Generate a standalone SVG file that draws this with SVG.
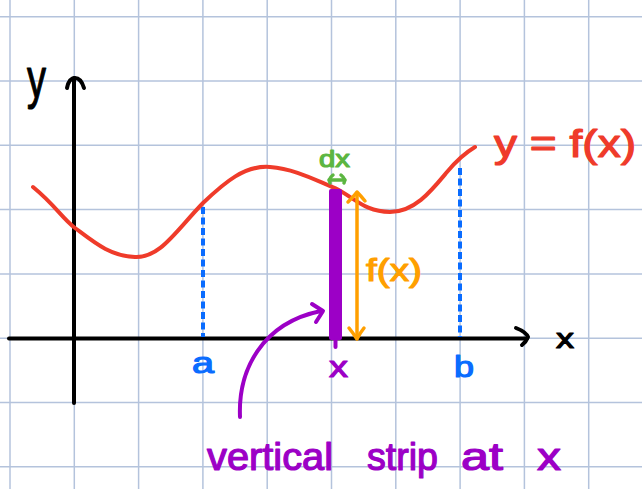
<svg xmlns="http://www.w3.org/2000/svg" width="642" height="489" viewBox="0 0 642 489">
<defs>
<style>
.grid line{stroke:#b4c3dc;stroke-width:1.5}
.ax{stroke:#000;stroke-width:4;fill:none;stroke-linecap:round;stroke-linejoin:round}
.t{font-family:"Liberation Sans","DejaVu Sans",sans-serif;stroke-width:1.2;stroke-linejoin:round}
.dash{stroke:#0a6cff;stroke-width:4;stroke-dasharray:7 3.5;fill:none}
.pur{stroke:#9c00c6;fill:none;stroke-linecap:round;stroke-linejoin:round}
.org{stroke:#ff9f00;stroke-width:3.5;fill:none;stroke-linecap:round;stroke-linejoin:round}
.grn{stroke:#5cb641;stroke-width:3.5;fill:none;stroke-linecap:round;stroke-linejoin:round}
</style>
</defs>
<rect width="642" height="489" fill="#fff"/>
<g id="grid" class="grid">
<line x1="10" y1="0" x2="10" y2="489"/>
<line x1="74.3" y1="0" x2="74.3" y2="489"/>
<line x1="138.6" y1="0" x2="138.6" y2="489"/>
<line x1="202.9" y1="0" x2="202.9" y2="489"/>
<line x1="267.2" y1="0" x2="267.2" y2="489"/>
<line x1="331.5" y1="0" x2="331.5" y2="489"/>
<line x1="395.8" y1="0" x2="395.8" y2="489"/>
<line x1="460.1" y1="0" x2="460.1" y2="489"/>
<line x1="524.4" y1="0" x2="524.4" y2="489"/>
<line x1="588.7" y1="0" x2="588.7" y2="489"/>
<line x1="0" y1="16.7" x2="642" y2="16.7"/>
<line x1="0" y1="81" x2="642" y2="81"/>
<line x1="0" y1="145.3" x2="642" y2="145.3"/>
<line x1="0" y1="209.6" x2="642" y2="209.6"/>
<line x1="0" y1="273.9" x2="642" y2="273.9"/>
<line x1="0" y1="338.2" x2="642" y2="338.2"/>
<line x1="0" y1="402.5" x2="642" y2="402.5"/>
<line x1="0" y1="466.8" x2="642" y2="466.8"/>
</g>
<g id="axes">
<path class="ax" d="M74,403 L74,78"/>
<path class="ax" d="M67,88 Q69,78 75,78 Q81,78 84,88"/>
<path class="ax" d="M9,338.5 L527,338.5"/>
<path class="ax" d="M516,328 Q526,332 528,337 Q526,342 522,345"/>
<text class="t" x="27" y="97" font-size="56" textLength="19" lengthAdjust="spacingAndGlyphs" fill="#000" stroke="#000">y</text>
<text class="t" x="556" y="348" font-size="28" textLength="18" lengthAdjust="spacingAndGlyphs" fill="#000" stroke="#000">x</text>
</g>
<g id="bounds">
<line class="dash" x1="203" y1="207" x2="203" y2="337"/>
<line class="dash" x1="460" y1="168" x2="460" y2="337"/>
<text class="t" x="192" y="373" font-size="30" textLength="22" lengthAdjust="spacingAndGlyphs" fill="#0a6cff" stroke="#0a6cff">a</text>
<text class="t" x="454" y="377" font-size="30" textLength="20" lengthAdjust="spacingAndGlyphs" fill="#0a6cff" stroke="#0a6cff">b</text>
</g>
<g id="curve">
<path d="M33,187 C55,205 62,218 75,228 C95,243 110,256 135,257 C160,258 175,232 203,203 C225,182 245,165 270,167 C295,169 315,180 335,188 C355,198 365,212 390,212 C415,212 432,190 447,172 C457,160 465,153 475,147" fill="none" stroke="#ef3b2a" stroke-width="4" stroke-linecap="round"/>
<text class="t" x="494" y="157" font-size="38" textLength="142" lengthAdjust="spacingAndGlyphs" fill="#ef3b2a" stroke="#ef3b2a">y = f(x)</text>
</g>
<g id="strip">
<rect x="329" y="189" width="13" height="151" rx="2" fill="#9c00c6"/>
<line class="pur" x1="335.5" y1="340" x2="335.5" y2="347" stroke-width="4"/>
<text class="t" x="329" y="377" font-size="30" textLength="19" lengthAdjust="spacingAndGlyphs" fill="#9c00c6" stroke="#9c00c6">x</text>
</g>
<g id="connectors">
<path class="org" d="M357,193 L357,338"/>
<path class="org" d="M348,202 Q354,196 357,192 Q361,196 365,201"/>
<path class="org" d="M349,328 Q353,333 357,339 Q360,333 364,328"/>
<path class="grn" d="M329,180 L345,180"/>
<path class="grn" d="M333,175 Q328,179 330,183"/>
<path class="grn" d="M341,175 Q346,179 344,183"/>
<path class="pur" stroke-width="4" d="M240,417 C238,370 262,323 321,311"/>
<path class="pur" stroke-width="4" d="M312,304 L323,311 L316,322"/>
</g>
<g id="labels">
<text class="t" x="319" y="167" font-size="24" textLength="31" lengthAdjust="spacingAndGlyphs" fill="#5cb641" stroke="#5cb641">dx</text>
<text class="t" x="366" y="281" font-size="32" textLength="56" lengthAdjust="spacingAndGlyphs" fill="#ff9f00" stroke="#ff9f00">f(x)</text>
<g id="caption" class="t" font-size="38" fill="#9c00c6" stroke="#9c00c6">
<text x="207" y="470" textLength="126" lengthAdjust="spacingAndGlyphs">vertical</text>
<text x="367" y="470" textLength="71" lengthAdjust="spacingAndGlyphs">strip</text>
<text x="461" y="470" textLength="42" lengthAdjust="spacingAndGlyphs">at</text>
<text x="537" y="470" textLength="24" lengthAdjust="spacingAndGlyphs">x</text>
</g>
</g>
</svg>
